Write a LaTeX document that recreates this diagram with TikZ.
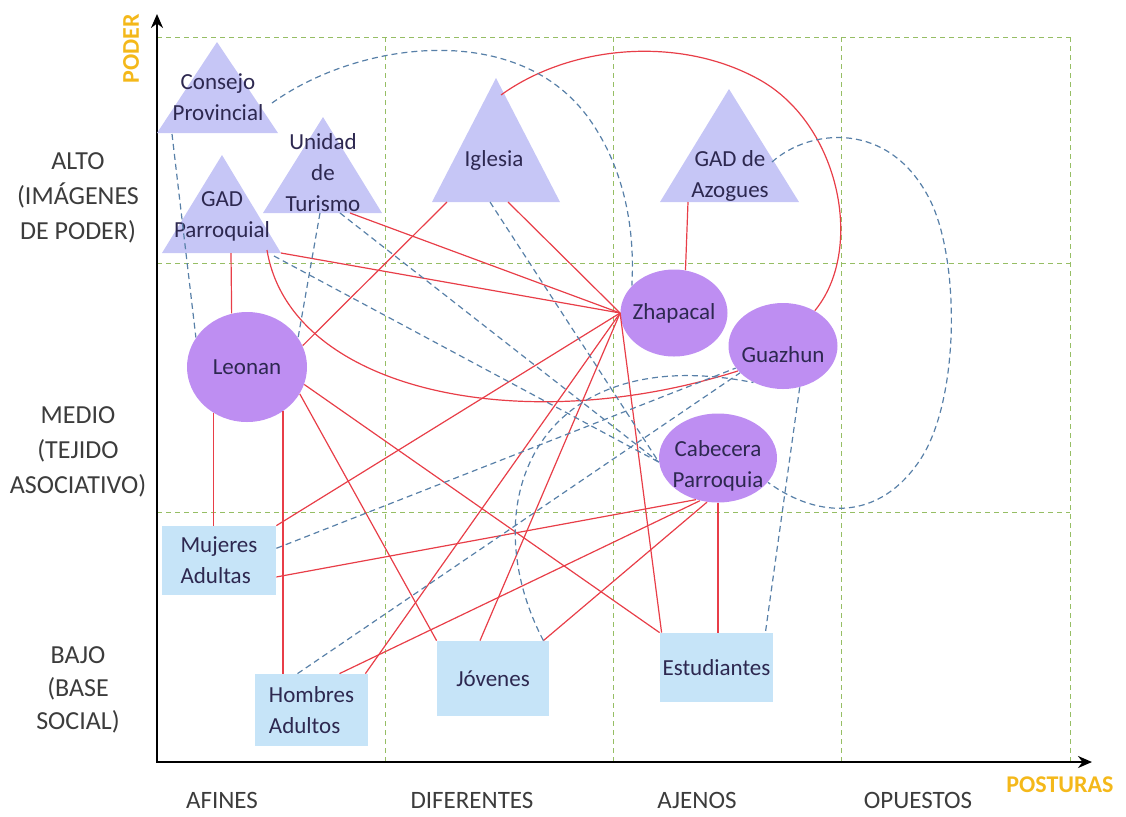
\documentclass[tikz,border=0pt]{standalone}
\usepackage{fontspec}
\setmainfont{Carlito}
\usetikzlibrary{shapes.geometric, arrows.meta, positioning, calc}

\definecolor{trifill}{RGB}{198,198,246}
\definecolor{ellfill}{RGB}{190,142,242}
\definecolor{boxfill}{RGB}{198,228,248}
\definecolor{redline}{RGB}{232,62,72}
\definecolor{blueline}{RGB}{88,128,168}
\definecolor{gridgreen}{RGB}{150,190,100}
\definecolor{axisgold}{RGB}{244,184,26}
\definecolor{labelgray}{RGB}{60,60,60}
\definecolor{nodetext}{RGB}{45,40,80}

\tikzset{
  tri/.style={fill=trifill},
  elli/.style={ellipse, fill=ellfill, inner sep=0pt},
  socbox/.style={rectangle, fill=boxfill, inner sep=0pt, align=left, text=nodetext, font=\fontsize{11.5}{15.5}\selectfont},
  txt/.style={text=nodetext, align=center, font=\fontsize{11.5}{15.5}\selectfont},
  lvl/.style={text=labelgray, align=center, font=\fontsize{13}{17.5}\selectfont},
  postura/.style={text=labelgray, font=\fontsize{12.5}{15}\selectfont},
  rel/.style={draw=redline, line width=0.6pt},
  link/.style={draw=blueline, line width=0.6pt, dash pattern=on 3pt off 2pt},
  grid line/.style={draw=gridgreen, line width=0.5pt, dash pattern=on 2.5pt off 2pt},
  axis title/.style={text=axisgold, font=\fontsize{12}{14}\selectfont\bfseries},
}

\begin{document}
\begin{tikzpicture}[x=0.5pt, y=-0.5pt]
\useasboundingbox (0,0) rectangle (1126,816);
% grid
\foreach \y in {37,263,512}
    \draw[grid line] (157,\y) -- (1070,\y);
\foreach \x in {385,613,841,1070}
    \draw[grid line] (\x,37) -- (\x,762);
% axes
\draw[line width=1.1pt, {Stealth[length=7pt,width=6pt]}-{Stealth[length=7pt,width=6pt]}] (157,14) -- (157,762) -- (1092,762);
\node[axis title, rotate=90] (poder) at (131,49) {PODER};
\node[axis title] (posturas) at (1060,785) {POSTURAS};

\node[lvl] (alto) at (78,198) {ALTO\\(IMÁGENES\\DE PODER)};
\node[lvl] (medio) at (78,452) {MEDIO\\(TEJIDO\\ASOCIATIVO)};
\node[lvl, font=\fontsize{13}{16.5}\selectfont] (bajo) at (78,690) {BAJO\\(BASE\\SOCIAL)};
\foreach \x/\t [count=\i] in {222/AFINES, 472/DIFERENTES, 697/AJENOS, 918/OPUESTOS}
    \node[postura] (post\i) at (\x,800) {\t};

% images de poder
\fill[tri] (217,42) -- (278,133) -- (157,133) -- cycle;
\fill[tri] (222,155) -- (281,253) -- (162,253) -- cycle;
\fill[tri] (323,117) -- (382,213) -- (263,213) -- cycle;
\fill[tri] (496,78) -- (560,202) -- (432,202) -- cycle;
\fill[tri] (729,89) -- (799,202) -- (660,202) -- cycle;
\node[txt] (consejo) at (218,97) {Consejo\\Provincial};
\node[txt] (gadp) at (222,216) {GAD\\Parroquial};
\node[txt] (turismo) at (323,173) {Unidad\\de\\Turismo};
\node[txt] (iglesia) at (494,160) {Iglesia};
\node[txt] (azogues) at (730,176) {GAD de\\Azogues};

\coordinate (cp-r) at (272,103);
\coordinate (cp-b) at (172,134);
\coordinate (gp-b) at (231,253);
\coordinate (gp-c) at (267,250);
\coordinate (gp-z) at (281,253);
\coordinate (gp-d) at (274,256);
\coordinate (ut-b) at (320,213);
\coordinate (ut-z) at (350,213);
\coordinate (ut-d) at (340,213);
\coordinate (ig-a) at (501,95);
\coordinate (ig-l) at (447,202);
\coordinate (ig-d) at (490,202);
\coordinate (ig-z) at (508,202);
\coordinate (az-b) at (688,202);
\coordinate (az-r) at (772,162);

% tejido asociativo
\node[elli, minimum width=60pt, minimum height=55pt, label={[txt]center:Leonan}] (leo) at (247,367) {};
\node[elli, minimum width=53.5pt, minimum height=43.5pt, label={[txt]center:Zhapacal}] (zha) at (674,313) {};
\node[elli, minimum width=54.5pt, minimum height=43pt, label={[txt, yshift=-4.5pt]center:Guazhun}] (gua) at (783,346) {};
\node[elli, minimum width=59pt, minimum height=44.5pt, label={[txt, yshift=-4pt]center:Cabecera\\Parroquia}] (cab) at (718,458) {};

% base social
\node[socbox, minimum width=57pt, minimum height=34.5pt] (muj) at (219,560.5) {Mujeres\\Adultas};
\node[socbox, minimum width=56.5pt, minimum height=36pt] (hom) at (311.5,710) {Hombres\\Adultos};
\node[socbox, minimum width=56pt, minimum height=37.5pt] (jov) at (493,678.5) {Jóvenes};
\node[socbox, minimum width=56.5pt, minimum height=34.5pt] (est) at (716.5,667.5) {Estudiantes};

% relaciones fuertes
\draw[rel] (gp-b) -- (leo.106);
\draw[rel] (leo.234) -- (leo.234 |- muj.north);
\draw[rel] (leo.309) -- (leo.309 |- hom.north);
\draw[rel] (ig-l) -- (leo.21);
\draw[rel] (leo.333) -- (jov.north west);
\draw[rel] (leo.343) -- (est.north west);
\draw[rel] (az-b) -- (zha.75);
\foreach \s in {ig-z, ut-z, gp-z}
    \draw[rel] (\s) -- (zha.west);
\draw[rel] (muj.north east) -- (zha.west);
\draw[rel] ([xshift=-1.5pt]hom.north east) -- (zha.west);
\draw[rel] ([xshift=-6.5pt]jov.north) -- (zha.west);
\draw[rel] (zha.west) -- ([xshift=1pt]est.north west);
\draw[rel] (muj.-16) -- (cab.242);
\draw[rel] ([xshift=14pt]hom.north) -- (cab.247);
\draw[rel] ([xshift=-3pt]jov.north east) -- (cab.256);
\draw[rel] (cab.south) -- (cab.south |- est.north);
\draw[rel] (ig-a) .. controls (570,45) and (680,35) .. (760,80) .. controls (840,125) and (865,250) .. (gua.48);
\draw[rel] (gp-c) .. controls (290,390) and (520,440) .. (gua.209);

% relaciones debiles
\draw[link] (cp-b) -- (leo.150);
\draw[link] (ut-b) -- (leo.30);
\foreach \s in {gp-d, ut-d, ig-d}
    \draw[link] (\s) -- (cab.184);
\draw[link] (muj.12) -- (gua.205);
\draw[link] ([xshift=-7pt]hom.north) -- (gua.212);
\draw[link] (gua.292) -- ([xshift=-4pt]est.north east);
\draw[link] ([xshift=-3pt]jov.north east) .. controls (470,500) and (540,340) .. (gua.231);
\draw[link] (cp-r) .. controls (360,40) and (520,20) .. (590,120) .. controls (625,170) and (635,230) .. (zha.147);
\draw[link] (az-r) .. controls (810,128) and (890,120) .. (930,200) .. controls (960,260) and (960,400) .. (920,460) .. controls (880,520) and (820,520) .. (cab.334);
\end{tikzpicture}
\end{document}
